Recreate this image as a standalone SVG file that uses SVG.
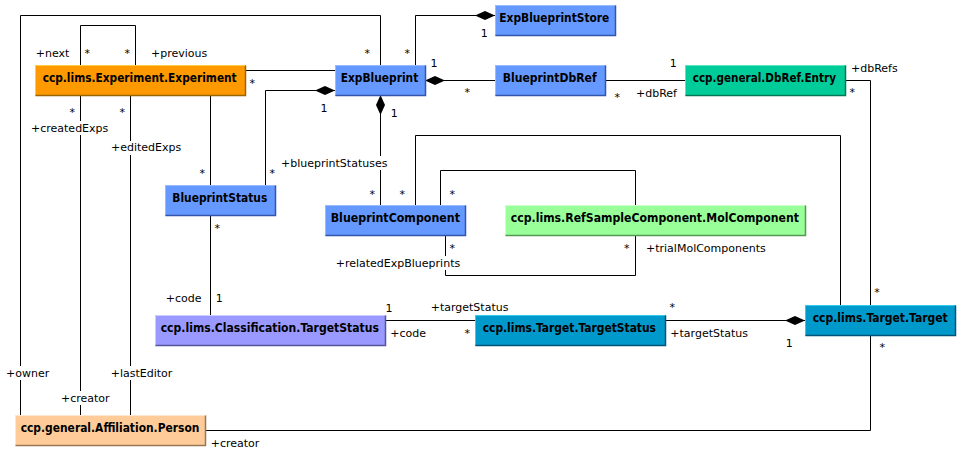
<svg xmlns="http://www.w3.org/2000/svg" width="965" height="460" viewBox="0 0 965 460">
  <style>
    .bg { fill: #ffffff; }
    .conn { fill: none; stroke: #000000; stroke-width: 1; }
    .comp { marker-start: url(#diamond); }
    .knock { fill: #ffffff; }
    .lbl { font-family: "DejaVu Sans", "Liberation Sans", sans-serif; font-size: 11px; fill: #000000; }
    .mult { font-family: "DejaVu Sans", "Liberation Sans", sans-serif; font-size: 11px; fill: #000000; text-anchor: middle; }
    .title { font-family: "DejaVu Sans Condensed", "DejaVu Sans", "Liberation Sans", sans-serif; font-size: 12px; font-weight: bold; fill: #000000; }
    .box { stroke-width: 1; }
    .shade { fill: none; stroke-width: 1.5; }
    .orange .box { fill: #ff9900; stroke: #ffcc44; }
    .orange .shade { stroke: #996600; }
    .blue .box { fill: #6699ff; stroke: #99bbff; }
    .blue .shade { stroke: #3355aa; }
    .teal .box { fill: #00cc99; stroke: #55e6bb; }
    .teal .shade { stroke: #007755; }
    .mint .box { fill: #99ff99; stroke: #ccffcc; }
    .mint .shade { stroke: #559955; }
    .violet .box { fill: #9999ff; stroke: #ccccff; }
    .violet .shade { stroke: #555599; }
    .cyan .box { fill: #0099cc; stroke: #33ccee; }
    .cyan .shade { stroke: #005577; }
    .peach .box { fill: #ffcc99; stroke: #ffe6cc; }
    .peach .shade { stroke: #997755; }
  </style>
  <defs>
    <!-- filled composition diamond, placed at the start of a path -->
    <marker id="diamond" viewBox="0 0 20 10" refX="0" refY="5" markerWidth="20" markerHeight="10" markerUnits="userSpaceOnUse" orient="auto">
      <path d="M0,5 L10,0.5 L20,5 L10,9.5 Z" fill="#000000"/>
    </marker>
  </defs>
  <rect class="bg" x="0" y="0" width="965" height="460"/>

  <g id="connectors">
    <path class="conn" d="M80.5,65 V25.5 H135.5 V65"/>
    <path class="conn" d="M245,70.5 H335"/>
    <path class="conn" d="M20.5,415 V15.5 H380.5 V65"/>
    <path class="conn comp" d="M335,90.5 H265.5 V185"/>
    <path class="conn comp" d="M495,15.5 H415.5 V65"/>
    <path class="conn comp" d="M425,80.5 H495"/>
    <path class="conn" d="M605,80.5 H685"/>
    <path class="conn" d="M845,80.5 H870.5 V305"/>
    <path class="conn comp" d="M380.5,95 V205"/>
    <path class="conn" d="M415.5,205 V135.5 H840.5 V305"/>
    <path class="conn" d="M440.5,205 V170.5 H635.5 V205"/>
    <path class="conn" d="M445.5,235 V275.5 H635.5 V235"/>
    <path class="conn" d="M210.5,95 V185"/>
    <path class="conn" d="M210.5,215 V315"/>
    <path class="conn" d="M385,320.5 H475"/>
    <path class="conn comp" d="M805,320.5 H665"/>
    <path class="conn" d="M205,430.5 H870.5 V335"/>
    <path class="conn" d="M80.5,95 V415"/>
    <path class="conn" d="M130.5,95 V415"/>

    <!-- role names that sit across a line get a plain backing -->
    <rect class="knock" x="30" y="121" width="83" height="14"/>
    <rect class="knock" x="109" y="141" width="77" height="14"/>
    <rect class="knock" x="279" y="156" width="111" height="14"/>
    <rect class="knock" x="334" y="256" width="132" height="14"/>
    <rect class="knock" x="5" y="366" width="47" height="14"/>
    <rect class="knock" x="59" y="391" width="53" height="14"/>
    <rect class="knock" x="109" y="366" width="67" height="14"/>

    <!-- role names -->
    <text class="lbl" x="35.7" y="57">+next</text>
    <text class="lbl" x="151" y="57">+previous</text>
    <text class="lbl" x="31" y="132">+createdExps</text>
    <text class="lbl" x="111" y="151">+editedExps</text>
    <text class="lbl" x="281" y="166.5">+blueprintStatuses</text>
    <text class="lbl" x="335.7" y="266.5">+relatedExpBlueprints</text>
    <text class="lbl" x="646" y="251.5">+trialMolComponents</text>
    <text class="lbl" x="636" y="96.5">+dbRef</text>
    <text class="lbl" x="851" y="71.5">+dbRefs</text>
    <text class="lbl" x="165.7" y="301.5">+code</text>
    <text class="lbl" x="430.7" y="311">+targetStatus</text>
    <text class="lbl" x="390.3" y="336.5">+code</text>
    <text class="lbl" x="670.3" y="336.5">+targetStatus</text>
    <text class="lbl" x="6" y="376.5">+owner</text>
    <text class="lbl" x="61" y="401.5">+creator</text>
    <text class="lbl" x="110.7" y="376.5">+lastEditor</text>
    <text class="lbl" x="210.7" y="446.5">+creator</text>

    <!-- multiplicities -->
    <text class="mult" x="87.3" y="57">*</text>
    <text class="mult" x="127.3" y="57">*</text>
    <text class="mult" x="252.3" y="87">*</text>
    <text class="mult" x="324" y="112">1</text>
    <text class="mult" x="367.3" y="57">*</text>
    <text class="mult" x="407.3" y="57">*</text>
    <text class="mult" x="484.3" y="37">1</text>
    <text class="mult" x="434" y="67">1</text>
    <text class="mult" x="467.3" y="96">*</text>
    <text class="mult" x="394.3" y="117">1</text>
    <text class="mult" x="617.3" y="101">*</text>
    <text class="mult" x="673.3" y="67">1</text>
    <text class="mult" x="852.3" y="96">*</text>
    <text class="mult" x="202.3" y="177">*</text>
    <text class="mult" x="272.3" y="177">*</text>
    <text class="mult" x="217.3" y="232">*</text>
    <text class="mult" x="219.3" y="302">1</text>
    <text class="mult" x="372.3" y="198">*</text>
    <text class="mult" x="402.3" y="198">*</text>
    <text class="mult" x="452.3" y="198">*</text>
    <text class="mult" x="452.3" y="252">*</text>
    <text class="mult" x="626.7" y="252">*</text>
    <text class="mult" x="672.3" y="311">*</text>
    <text class="mult" x="877" y="296">*</text>
    <text class="mult" x="389" y="312">1</text>
    <text class="mult" x="467.3" y="337">*</text>
    <text class="mult" x="789.3" y="347">1</text>
    <text class="mult" x="882.3" y="351">*</text>
    <text class="mult" x="72.3" y="116">*</text>
    <text class="mult" x="122.3" y="116">*</text>
  </g>

  <g id="experiment" class="orange">
    <rect class="box" x="35.5" y="65.5" width="210" height="30"/>
    <path class="shade" d="M35.5,95.5 H245.5 V65.5"/>
    <text class="title" x="42.7" y="82" textLength="194" lengthAdjust="spacingAndGlyphs">ccp.lims.Experiment.Experiment</text>
  </g>
  <g id="expBlueprint" class="blue">
    <rect class="box" x="335.5" y="65.5" width="90" height="30"/>
    <path class="shade" d="M335.5,95.5 H425.5 V65.5"/>
    <text class="title" x="340.7" y="82" textLength="77.6" lengthAdjust="spacingAndGlyphs">ExpBlueprint</text>
  </g>
  <g id="expBlueprintStore" class="blue">
    <rect class="box" x="495.5" y="5.5" width="120" height="30"/>
    <path class="shade" d="M495.5,35.5 H615.5 V5.5"/>
    <text class="title" x="499.3" y="22" textLength="110" lengthAdjust="spacingAndGlyphs">ExpBlueprintStore</text>
  </g>
  <g id="blueprintDbRef" class="blue">
    <rect class="box" x="495.5" y="65.5" width="110" height="30"/>
    <path class="shade" d="M495.5,95.5 H605.5 V65.5"/>
    <text class="title" x="502.7" y="82" textLength="94" lengthAdjust="spacingAndGlyphs">BlueprintDbRef</text>
  </g>
  <g id="dbRefEntry" class="teal">
    <rect class="box" x="685.5" y="65.5" width="160" height="30"/>
    <path class="shade" d="M685.5,95.5 H845.5 V65.5"/>
    <text class="title" x="692.7" y="82" textLength="143.3" lengthAdjust="spacingAndGlyphs">ccp.general.DbRef.Entry</text>
  </g>
  <g id="blueprintStatus" class="blue">
    <rect class="box" x="165.5" y="185.5" width="110" height="30"/>
    <path class="shade" d="M165.5,215.5 H275.5 V185.5"/>
    <text class="title" x="172.3" y="202" textLength="95" lengthAdjust="spacingAndGlyphs">BlueprintStatus</text>
  </g>
  <g id="blueprintComponent" class="blue">
    <rect class="box" x="325.5" y="205.5" width="140" height="30"/>
    <path class="shade" d="M325.5,235.5 H465.5 V205.5"/>
    <text class="title" x="330.7" y="222" textLength="129.3" lengthAdjust="spacingAndGlyphs">BlueprintComponent</text>
  </g>
  <g id="molComponent" class="mint">
    <rect class="box" x="505.5" y="205.5" width="300" height="30"/>
    <path class="shade" d="M505.5,235.5 H805.5 V205.5"/>
    <text class="title" x="510.7" y="222" textLength="288.3" lengthAdjust="spacingAndGlyphs">ccp.lims.RefSampleComponent.MolComponent</text>
  </g>
  <g id="classificationTargetStatus" class="violet">
    <rect class="box" x="155.5" y="315.5" width="230" height="30"/>
    <path class="shade" d="M155.5,345.5 H385.5 V315.5"/>
    <text class="title" x="160.7" y="332" textLength="218.3" lengthAdjust="spacingAndGlyphs">ccp.lims.Classification.TargetStatus</text>
  </g>
  <g id="targetStatus" class="cyan">
    <rect class="box" x="475.5" y="315.5" width="190" height="30"/>
    <path class="shade" d="M475.5,345.5 H665.5 V315.5"/>
    <text class="title" x="482.7" y="332" textLength="173.3" lengthAdjust="spacingAndGlyphs">ccp.lims.Target.TargetStatus</text>
  </g>
  <g id="target" class="cyan">
    <rect class="box" x="805.5" y="305.5" width="150" height="30"/>
    <path class="shade" d="M805.5,335.5 H955.5 V305.5"/>
    <text class="title" x="812.7" y="322" textLength="135" lengthAdjust="spacingAndGlyphs">ccp.lims.Target.Target</text>
  </g>
  <g id="person" class="peach">
    <rect class="box" x="15.5" y="415.5" width="190" height="30"/>
    <path class="shade" d="M15.5,445.5 H205.5 V415.5"/>
    <text class="title" x="20.7" y="432" textLength="178.7" lengthAdjust="spacingAndGlyphs">ccp.general.Affiliation.Person</text>
  </g>
</svg>
